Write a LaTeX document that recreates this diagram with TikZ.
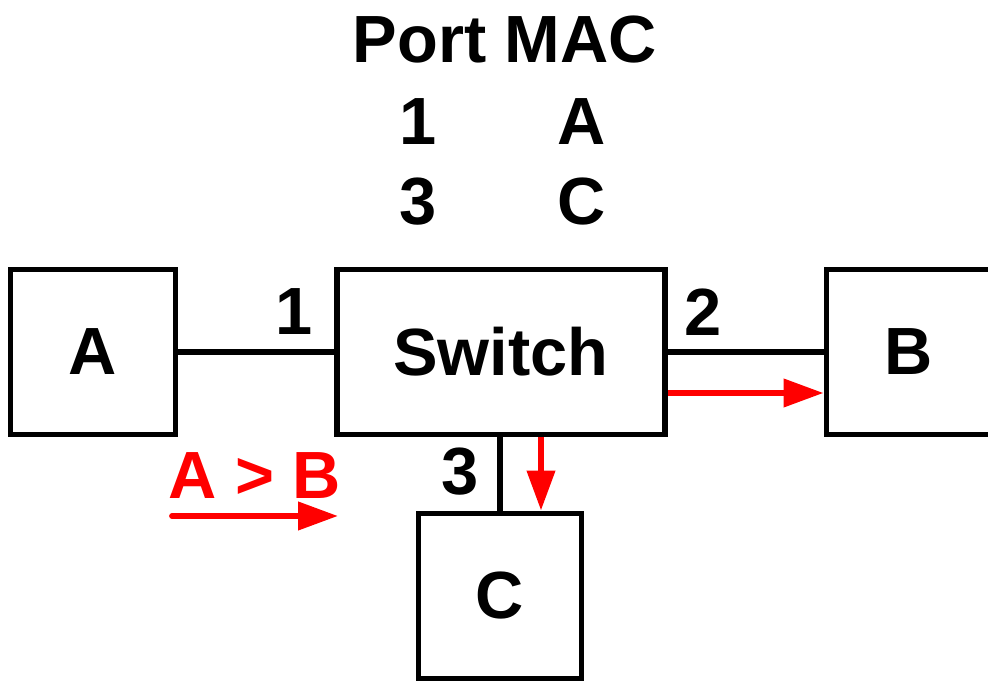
\documentclass[tikz,border=0pt]{standalone}
\usepackage{fontspec}
\setmainfont{Liberation Sans}
\usepackage{xcolor}
\usetikzlibrary{arrows.meta}
\definecolor{flowred}{RGB}{255,0,0}
\tikzset{
  netbox/.style={draw=black, line width=3.4pt, minimum width=3.3cm, minimum height=3.3cm, font=\fontsize{38}{40}\selectfont\bfseries},
  lbl/.style={font=\fontsize{38}{40}\selectfont\bfseries},
  link/.style={draw=black, line width=3.4pt},
  flow/.style={draw=flowred, line width=3.3pt, -{Triangle[length=0.8cm,width=0.55cm]}}
}

\begin{document}
\begin{tikzpicture}
  \useasboundingbox (0,0) rectangle (19.76,13.62);

  % MAC table
  \node[lbl] (hdr) at (10.1, 12.82) {Port MAC};
  \node[lbl] (portA) at (8.36, 11.18) {1};
  \node[lbl] (macA) at (11.64, 11.18) {A};
  \node[lbl] (portC) at (8.36, 9.58) {3};
  \node[lbl] (macC) at (11.64, 9.58) {C};

  % Hosts and switch
  \node[netbox] (A) at (1.86, 6.58) {A};
  \node[netbox, minimum width=6.56cm] (Switch) at (10.02, 6.58) {Switch};
  \node[netbox] (B) at (18.18, 6.58) {B};
  \node[netbox, minimum width=3.26cm] (C) at (10.0, 1.70) {C};

  % Links
  \draw[link] (A.east) -- (Switch.west);
  \draw[link] (Switch.east) -- (B.west);
  \draw[link] (Switch.south -| C.north) -- (C.north);

  % Port numbers
  \node[lbl] (p1) at (5.88, 7.38) {1};
  \node[lbl] (p2) at (14.06, 7.38) {2};
  \node[lbl] (p3) at (9.2, 4.18) {3};

  % Frame A > B
  \node[lbl, text=flowred] (frame) at (5.10, 4.10) {A > B};
  \coordinate (fstart) at (3.44, 3.30);
  \coordinate (fend) at (6.76, 3.30);
  \draw[flow, line cap=round] (fstart) -- (fend);

  % Flooding
  \draw[flow] ([yshift=-0.82cm]Switch.east) -- ([yshift=-0.82cm]B.west);
  \coordinate (down) at ([xshift=0.82cm]C.north);
  \draw[flow] (Switch.south -| down) -- (down);

\end{tikzpicture}
\end{document}
